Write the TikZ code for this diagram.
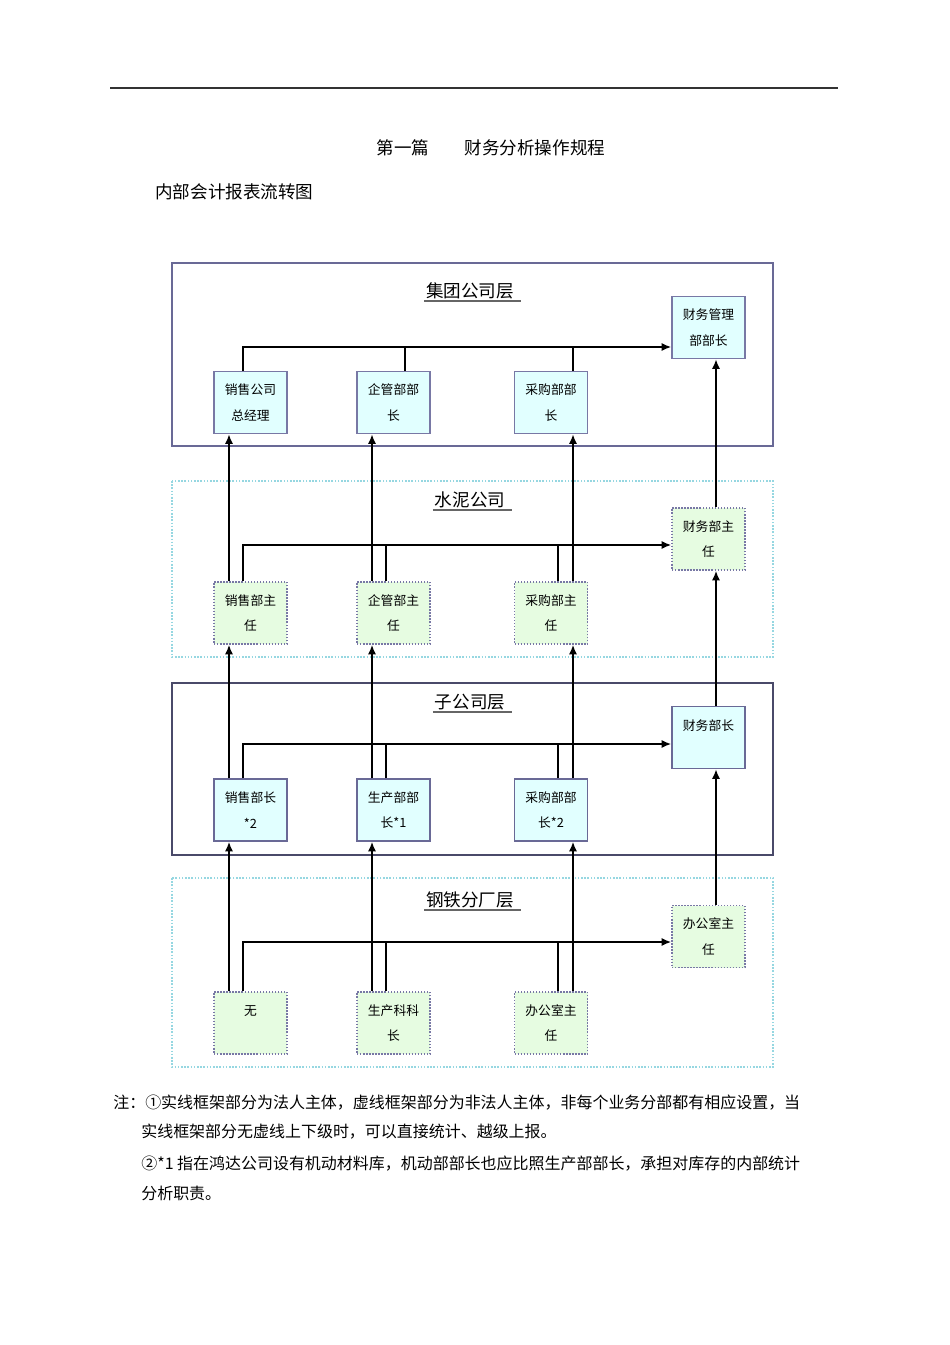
\documentclass[tikz,border=0pt]{standalone}
\usepackage{fontspec}
\setmainfont{Noto Sans CJK SC}
\usetikzlibrary{arrows.meta}
\definecolor{framesolid}{RGB}{105,105,150}
\definecolor{framedot}{RGB}{150,215,225}
\definecolor{boxline}{RGB}{120,120,165}
\definecolor{boxblue}{RGB}{225,255,255}
\definecolor{boxgreen}{RGB}{230,252,225}

\begin{document}
\begin{tikzpicture}[x=0.626pt,y=-0.626pt,
    solidframe/.style={draw=framesolid,line width=0.8pt},
    dotframe/.style={draw=framedot,densely dotted,line width=1pt},
    bluebox/.style={draw=boxline,line width=0.9pt,fill=boxblue,
      minimum width=45.7pt,minimum height=38.8pt,inner sep=0pt,
      align=center,font=\fontsize{8}{16}\selectfont},
    greenbox/.style={bluebox,densely dotted,fill=boxgreen},
    layertitle/.style={font=\fontsize{11}{13}\selectfont,inner sep=1pt},
    uline/.style={draw=black!60,line width=1.2pt},
    uparrow/.style={line width=1.1pt,-{Latex[length=6pt,width=5pt]}},
    riser/.style={line width=0.8pt}]
\useasboundingbox (0,0) rectangle (950,1345);

% page head
\draw[line width=0.7pt,black!80] (110,88) -- (838,88);
\node[font=\fontsize{11}{13}\selectfont] (chapter) at (491,148) {第一篇\hspace{2em}财务分析操作规程};
\node[anchor=west,inner sep=0pt,font=\fontsize{11}{13}\selectfont] (diagtitle) at (155,192) {内部会计报表流转图};

% layer frames
\draw[solidframe] (172,263) rectangle (773,446);
\draw[dotframe] (172,481) rectangle (773,657);
\draw[solidframe,draw=framesolid!70!black] (172,683) rectangle (773,855);
\draw[dotframe] (172,878) rectangle (773,1067);

\node[layertitle] (tgroup) at (470,291) {集团公司层};
\node[layertitle] (tcement) at (470,500) {水泥公司};
\node[layertitle] (tsub) at (470,702) {子公司层};
\node[layertitle] (tsteel) at (470,900) {钢铁分厂层};
\foreach \t in {tgroup,tcement,tsub,tsteel}
  \draw[uline] (\t.south west) -- ([xshift=3pt]\t.south east);

% group layer
\node[bluebox] (gSale) at (250.5,402.5) {销售公司\\总经理};
\node[bluebox] (gMgmt) at (393.5,402.5) {企管部部\\长};
\node[bluebox] (gBuy) at (551,402.5) {采购部部\\长};
\node[bluebox] (gFin) at (708.5,327.5) {财务管理\\部部长};

% cement company
\node[greenbox] (cSale) at (250.5,613) {销售部主\\任};
\node[greenbox] (cMgmt) at (393.5,613) {企管部主\\任};
\node[greenbox] (cBuy) at (551,613) {采购部主\\任};
\node[greenbox] (cFin) at (708.5,539) {财务部主\\任};

% subsidiary layer
\node[bluebox,draw=framesolid] (sSale) at (250.5,810) {销售部长\\*2};
\node[bluebox,draw=framesolid] (sProd) at (393.5,810) {生产部部\\长*1};
\node[bluebox,draw=framesolid] (sBuy) at (551,810) {采购部部\\长*2};
\node[bluebox,draw=framesolid] (sFin) at (708.5,737.5) {财务部长\\\mbox{}};

% steel plant layer
\node[greenbox] (fNone) at (250.5,1023) {无\\\mbox{}};
\node[greenbox] (fProd) at (393.5,1023) {生产科科\\长};
\node[greenbox] (fOffice) at (551,1023) {办公室主\\任};
\node[greenbox] (fFin) at (708.5,936.5) {办公室主\\任};

% columns and buses
\coordinate (up1) at (229,0);
\coordinate (up2) at (372,0);
\coordinate (up3) at (573,0);
\coordinate (up4) at (716,0);
\coordinate (rs1) at (243,0);
\coordinate (rs2) at (386,0);
\coordinate (rs3) at (558,0);
\coordinate (rg2) at (405,0);
\coordinate (rg3) at (573,0);
\coordinate (busG) at (0,347);
\coordinate (busC) at (0,545);
\coordinate (busS) at (0,744);
\coordinate (busF) at (0,942);

% reporting upward
\foreach \col/\a/\b/\c/\d in {up1/fNone/sSale/cSale/gSale,
    up2/fProd/sProd/cMgmt/gMgmt, up3/fOffice/sBuy/cBuy/gBuy,
    up4/fFin/sFin/cFin/gFin}{
  \draw[uparrow] (\a.north -| \col) -- (\b.south -| \col);
  \draw[uparrow] (\b.north -| \col) -- (\c.south -| \col);
  \draw[uparrow] (\c.north -| \col) -- (\d.south -| \col);
}

% reporting across
\draw[uparrow] (gSale.north -| rs1) |- (gFin.west |- busG);
\draw[riser] (gMgmt.north -| rg2) -- (busG -| rg2);
\draw[riser] (gBuy.north -| rg3) -- (busG -| rg3);
\foreach \bus/\a/\b/\c/\d in {busC/cSale/cMgmt/cBuy/cFin,
    busS/sSale/sProd/sBuy/sFin, busF/fNone/fProd/fOffice/fFin}{
  \draw[uparrow] (\a.north -| rs1) |- (\d.west |- \bus);
  \draw[riser] (\b.north -| rs2) -- (\bus -| rs2);
  \draw[riser] (\c.north -| rs3) -- (\bus -| rs3);
}

% notes
\begin{scope}[every node/.style={anchor=west,inner sep=0pt,font=\fontsize{10}{12}\selectfont}]
\node (note1) at (113,1103) {注：①实线框架部分为法人主体，虚线框架部分为非法人主体，非每个业务分部都有相应设置，当};
\node (note2) at (141,1132) {实线框架部分无虚线上下级时，可以直接统计、越级上报。};
\node (note3) at (141,1164) {②*1 指在鸿达公司设有机动材料库，机动部部长也应比照生产部部长，承担对库存的内部统计};
\node (note4) at (141,1193) {分析职责。};
\end{scope}
\end{tikzpicture}
\end{document}
